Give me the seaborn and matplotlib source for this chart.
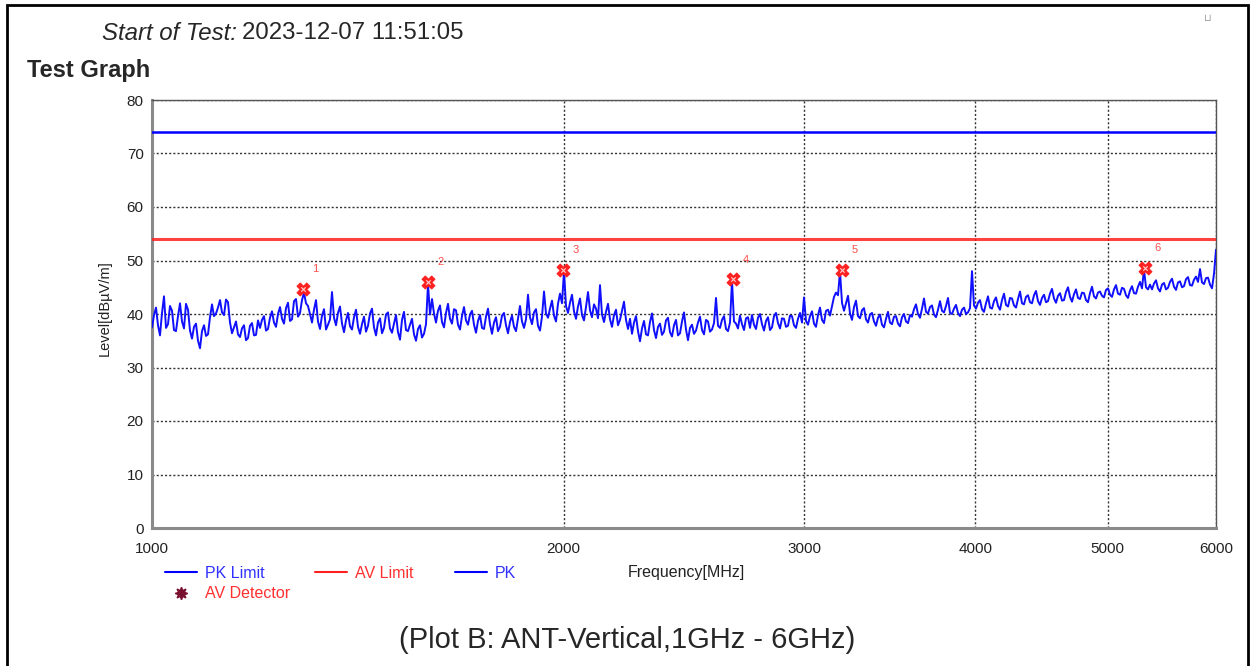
"""Radiated emission test graph: PK trace 1-6 GHz with limits and marker peaks."""

import matplotlib.pyplot as plt
import numpy as np
import seaborn as sns
from matplotlib.lines import Line2D
from matplotlib.patches import Rectangle

# sweep grid (log spaced, 533 points) and PK levels
freqs = np.geomspace(1000, 6000, 533)
pk_level = [
    37.5, 39.8, 41.2, 37.9, 36.0, 40.2, 43.3, 37.4, 38.1, 41.5, 40.6, 37.0, 36.8, 39.6, 42.0, 38.6, 37.3, 41.9, 40.8, 36.9,
    35.4, 37.6, 38.2, 35.0, 33.6, 36.8, 37.9, 35.9, 36.2, 39.4, 41.8, 39.6, 40.1, 41.2, 42.6, 40.3, 39.8, 42.7, 42.2, 38.4,
    36.4, 37.5, 38.6, 36.2, 35.7, 37.3, 37.9, 35.1, 35.5, 37.8, 38.3, 36.0, 36.1, 38.8, 37.4, 38.9, 39.6, 36.9, 37.2, 39.3,
    40.5, 38.4, 37.6, 40.0, 41.3, 39.1, 38.2, 41.1, 42.1, 38.7, 39.0, 42.4, 42.8, 39.5, 40.2, 42.6, 44.0, 42.0, 41.5, 40.0,
    38.4, 40.8, 42.6, 38.6, 37.2, 39.7, 40.9, 37.1, 38.0, 39.0, 44.1, 39.3, 37.9, 40.2, 41.4, 38.2, 36.6, 38.8, 40.2, 37.7,
    37.1, 39.4, 40.8, 37.6, 36.3, 38.1, 39.5, 36.7, 37.8, 40.1, 41.0, 37.5, 36.0, 38.4, 39.2, 36.4, 37.4, 39.9, 40.3, 37.3,
    36.5, 38.2, 39.8, 36.6, 35.2, 38.9, 40.4, 37.0, 36.8, 38.0, 39.1, 36.2, 35.0, 37.2, 37.9, 35.6, 36.3, 38.1, 45.6, 39.9,
    42.8, 40.1, 38.4, 40.6, 41.6, 38.5, 37.5, 40.2, 41.9, 39.1, 38.2, 40.9, 40.7, 38.0, 37.1, 39.6, 41.3, 38.8, 38.0, 39.9,
    40.6, 38.0, 36.5, 38.7, 39.8, 37.4, 37.2, 39.5, 41.0, 38.1, 36.3, 38.4, 39.4, 36.8, 37.6, 39.7, 40.2, 37.9, 36.4, 38.5,
    39.7, 37.6, 36.8, 39.2, 41.5, 38.6, 37.4, 39.0, 43.6, 39.4, 38.1, 40.3, 40.9, 37.8, 36.9, 39.5, 44.2, 40.1, 39.3, 41.0,
    42.5, 39.7, 38.6, 41.9, 43.8, 42.0, 48.0, 41.5, 40.2, 42.1, 43.6, 40.5, 39.1, 41.4, 42.9, 39.8, 38.8, 41.3, 44.1, 40.7,
    39.4, 41.8, 41.0, 39.2, 45.4, 39.9, 38.5, 40.4, 41.9, 39.0, 37.6, 39.8, 40.8, 37.9, 38.9, 40.6, 42.3, 38.9, 37.2, 39.1,
    36.3, 38.4, 39.6, 36.8, 34.9, 37.3, 38.7, 36.2, 36.0, 38.5, 40.1, 37.0, 35.5, 37.6, 38.2, 36.1, 36.7, 38.8, 39.3, 36.6,
    35.8, 37.9, 38.9, 36.0, 36.4, 38.6, 40.3, 37.1, 35.1, 37.4, 38.0, 36.3, 36.9, 38.4, 39.5, 37.0, 36.2, 38.9, 38.6, 36.7,
    37.1, 38.3, 43.0, 37.8, 37.4, 38.9, 39.6, 37.2, 36.8, 38.4, 46.2, 38.6, 38.2, 37.3, 39.7, 38.1, 37.0, 39.2, 39.4, 37.4,
    39.8, 38.0, 37.2, 39.3, 40.0, 38.1, 36.9, 38.7, 39.4, 37.0, 37.5, 39.6, 40.2, 38.3, 37.3, 39.2, 39.1, 37.6, 37.8, 39.7,
    39.6, 37.9, 37.4, 39.1, 40.2, 38.4, 43.1, 38.7, 38.0, 39.6, 40.5, 38.2, 37.6, 39.8, 41.2, 38.9, 38.3, 40.6, 40.8, 39.7,
    41.5, 43.2, 44.0, 43.5, 48.0, 42.1, 40.6, 42.0, 43.4, 40.1, 38.9, 41.3, 42.5, 39.6, 39.2, 40.7, 41.1, 39.0, 38.4, 39.9,
    40.2, 38.6, 37.8, 39.3, 39.9, 38.0, 37.5, 39.1, 40.4, 38.4, 38.1, 39.5, 39.6, 38.2, 37.7, 39.4, 40.0, 38.6, 38.3, 39.8,
    39.5, 40.9, 41.8, 40.0, 39.3, 41.0, 42.9, 40.4, 40.1, 41.3, 41.6, 39.9, 39.4, 40.8, 42.4, 40.6, 40.3, 41.5, 43.0, 40.2,
    40.0, 41.0, 41.7, 40.2, 39.6, 40.8, 41.2, 40.0, 40.3, 41.1, 48.0, 41.6, 41.0, 42.1, 42.6, 40.9, 40.4, 42.0, 43.3, 41.2,
    41.0, 42.4, 43.1, 41.5, 40.8, 42.6, 43.8, 41.7, 41.4, 43.0, 42.9, 41.6, 41.2, 42.8, 44.2, 42.0, 41.8, 43.2, 43.5, 42.2,
    42.0, 43.5, 44.3, 42.4, 41.7, 43.0, 43.6, 42.2, 42.4, 43.8, 44.7, 42.9, 42.1, 43.4, 43.9, 42.5, 42.6, 44.1, 45.0, 43.2,
    42.3, 43.7, 44.6, 43.0, 42.8, 44.0, 43.9, 42.6, 42.2, 43.9, 45.1, 43.3, 42.9, 44.0, 44.2, 43.4, 43.1, 44.5, 44.8, 43.6,
    43.2, 44.6, 45.4, 43.8, 43.6, 44.9, 44.7, 43.5, 43.0, 44.4, 45.2, 43.9, 43.8, 45.1, 46.0, 44.8, 48.3, 45.0, 44.6, 45.5,
    44.6, 45.7, 46.3, 44.8, 44.2, 45.5, 45.8, 44.6, 44.9, 46.0, 46.6, 45.1, 44.5, 45.9, 46.1, 45.0, 45.2, 46.5, 46.9, 45.4,
    45.3, 46.4, 47.0, 46.0, 48.4, 45.9, 45.6, 46.7, 46.8, 45.5, 44.8, 47.5, 52.0,
]

pk_limit = 74
av_limit = 54

marker_freq = [1289, 1591, 1998, 2660, 3195, 5322]
marker_level = [44.7, 46.0, 48.2, 46.5, 48.2, 48.6]
marker_label = ["1", "2", "3", "4", "5", "6"]

x_ticks = [1000, 2000, 3000, 4000, 5000, 6000]
y_ticks = [0, 10, 20, 30, 40, 50, 60, 70, 80]

sns.set_style("white")
plt.rcParams["font.family"] = ["Liberation Sans", "DejaVu Sans"]

fig = plt.figure(figsize=(12.5, 6.66), dpi=100)
ax = fig.add_axes([152 / 1250, 138 / 666, 1064 / 1250, 428 / 666])

BLUE = "#0000ff"
RED = "#ff2020"

ax.axhline(pk_limit, color=BLUE, lw=1.8, zorder=3)
ax.axhline(av_limit, color=RED, lw=2.2, alpha=0.85, zorder=3)

sns.lineplot(x=freqs, y=pk_level, color="#1010ff", lw=1.4, estimator=None, ax=ax, zorder=4)

sns.scatterplot(x=marker_freq, y=marker_level, marker="X", s=85, color=RED,
                edgecolor=RED, linewidth=0.8, ax=ax, zorder=6)
sns.scatterplot(x=marker_freq, y=marker_level, marker="x", s=10, color="#ffd0d0",
                linewidth=0.8, ax=ax, zorder=7)
for f, lv, lab in zip(marker_freq, marker_level, marker_label):
    ax.annotate(lab, (f, lv), xytext=(7, 12), textcoords="offset points",
                color=RED, fontsize=8, alpha=0.8)

ax.set_xscale("log")
ax.set_xlim(1000, 6000)
ax.set_ylim(0, 80)
ax.set_xticks(x_ticks)
ax.set_xticklabels([str(t) for t in x_ticks])
ax.xaxis.set_minor_locator(plt.NullLocator())
ax.set_yticks(y_ticks)
ax.tick_params(axis="both", labelsize=11, colors="#222222", length=4, width=1,
               direction="out")
ax.tick_params(axis="x", pad=6)
ax.tick_params(axis="y", pad=2)

ax.grid(True, color="#333333", linestyle=(0, (1.5, 1.5)), lw=1)
for side in ["left", "bottom"]:
    ax.spines[side].set_color("#8a8a8a")
    ax.spines[side].set_linewidth(2.2)
for side in ["top", "right"]:
    ax.spines[side].set_color("#555555")
    ax.spines[side].set_linewidth(1)

ax.set_xlabel("Frequency[MHz]", fontsize=11.5, color="#222222")
ax.xaxis.set_label_coords((686 - 152) / 1064, -(572 - 528) / 428)
ax.xaxis.label.set_va("center")
ax.set_ylabel("Level[dBµV/m]", fontsize=10.5, color="#222222")
ax.yaxis.set_label_coords((105 - 152) / 1064, (528 - 308) / 428)
ax.yaxis.label.set_va("center")


# legend blocks (three columns)
def add_legend(handles, labels, colors, x_px):
    leg = fig.legend(handles=handles, labels=labels, loc="upper left",
                     bbox_to_anchor=(x_px / 1250, 1 - 566 / 666), frameon=False,
                     borderpad=0, borderaxespad=0, handlelength=2.0,
                     handletextpad=0.5, labelspacing=0.33, fontsize=11.5)
    for t, c in zip(leg.get_texts(), colors):
        t.set_color(c)


add_legend([Line2D([], [], color=BLUE, lw=1.5),
            Line2D([], [], ls="", marker=(8, 1, 0), ms=9, color="#7a1030")],
           ["PK Limit", "AV Detector"], ["#3030ff", "#ff3030"], 165)
add_legend([Line2D([], [], color=RED, lw=1.5)], ["AV Limit"], ["#ff3030"], 315)
add_legend([Line2D([], [], color=BLUE, lw=1.5)], ["PK"], ["#3030ff"], 455)

# header and caption
fig.text(102 / 1250, 1 - 33 / 666, "Start of Test:", fontsize=17.3, style="italic",
         va="center")
fig.text(242 / 1250, 1 - 33 / 666, "2023-12-07 11:51:05", fontsize=17.3, va="center")
fig.text(27 / 1250, 1 - 71 / 666, "Test Graph", fontsize=17, weight="bold",
         va="center")
fig.text(627 / 1250, 1 - 640 / 666, "(Plot B: ANT-Vertical,1GHz - 6GHz)",
         fontsize=21, ha="center", va="center")
fig.text(1208 / 1250, 1 - 18 / 666, "⊔", fontsize=7, color="#999999",
         ha="center", va="center", family="DejaVu Sans")

fig.add_artist(Rectangle((7 / 1250, -0.05), (1248 - 7) / 1250, 1.05 - 5.5 / 666,
                         transform=fig.transFigure, fill=False, lw=2,
                         edgecolor="black"))

fig.savefig("out.png", dpi=100)
